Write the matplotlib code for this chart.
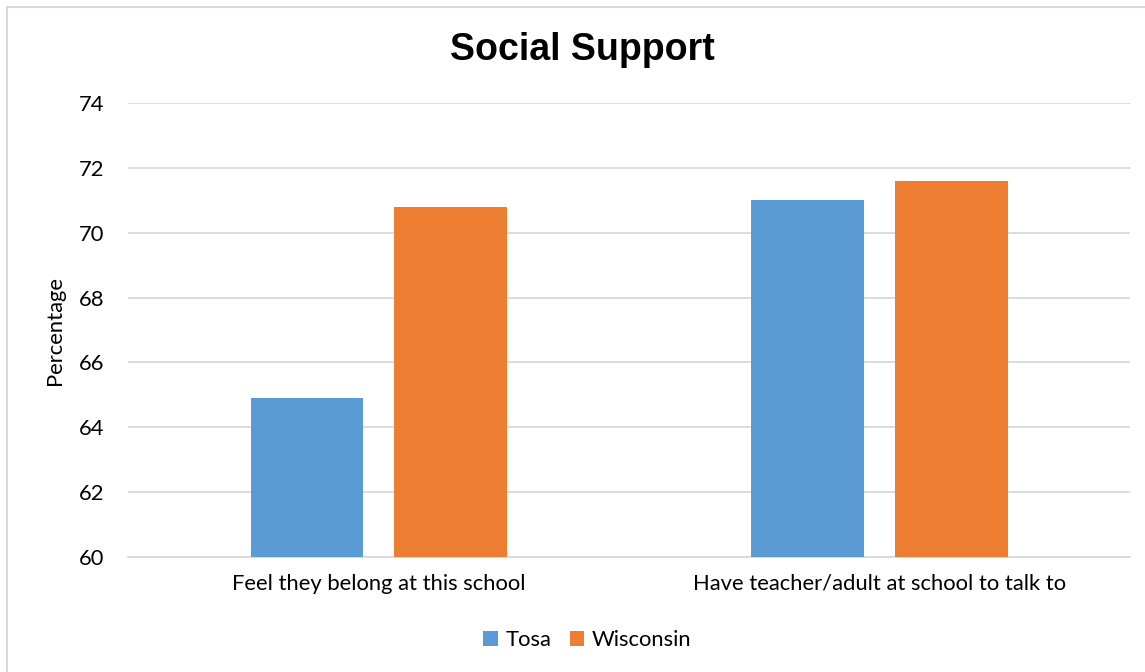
import numpy as np
import matplotlib
matplotlib.use("Agg")
from matplotlib import pyplot as plt
from matplotlib.patches import Rectangle

categories = ["Feel they belong at this school", "Have teacher/adult at school to talk to"]
series = ["Tosa", "Wisconsin"]
tosa = [64.9, 71.0]
wisconsin = [70.8, 71.6]
yticks = [60, 62, 64, 66, 68, 70, 72, 74]

colors = ["#5B9BD5", "#ED7D31"]
grid_col = "#D9D9D9"
body_font = ["Lato", "DejaVu Sans"]
fs = 15.8

fig = plt.figure(figsize=(11.45, 6.72), dpi=100)
ax = fig.add_axes([0.1118, 0.1711, 0.8751, 0.6756])

x = np.arange(len(categories))
w = 0.2255
gap = 0.06
off = (w + gap) / 2
ax.bar(x - off, tosa, width=w, color=colors[0], label=series[0], zorder=3)
ax.bar(x + off, wisconsin, width=w, color=colors[1], label=series[1], zorder=3)

ax.set_xlim(-0.5, len(categories) - 0.5)
ax.set_ylim(yticks[0], yticks[-1])
ax.set_yticks(yticks)
ax.set_xticks(x)
ax.set_xticklabels(categories, fontsize=fs, family=body_font)
for lbl in ax.get_yticklabels():
    lbl.set_fontsize(fs)
    lbl.set_family(body_font)

ax.yaxis.grid(True, color=grid_col, linewidth=1.3, zorder=0)
for s in ["top", "right", "left"]:
    ax.spines[s].set_visible(False)
ax.spines["bottom"].set_color(grid_col)
ax.spines["bottom"].set_linewidth(1.3)
ax.tick_params(axis="both", length=0, colors="black")
ax.tick_params(axis="y", pad=17)
ax.tick_params(axis="x", pad=12)

ax.set_ylabel("Percentage", fontsize=fs, family=body_font, labelpad=10)
fig.text(0.509, 0.925, "Social Support", ha="center", va="center",
         fontsize=27, fontweight="bold", family="Liberation Sans")

leg = fig.legend(loc="center", bbox_to_anchor=(0.513, 0.047), ncol=2, frameon=False,
                 prop={"family": body_font, "size": fs}, handlelength=0.65,
                 handleheight=0.65, handletextpad=0.35, columnspacing=0.85)

# thin frame around the whole chart
fig.patches.append(Rectangle((7 / 1145, -0.01), 1.1, 1 - 7 / 672 + 0.01,
                             transform=fig.transFigure, fill=False,
                             edgecolor="#D9D9D9", linewidth=1.5))

fig.savefig("out.png", dpi=100)
